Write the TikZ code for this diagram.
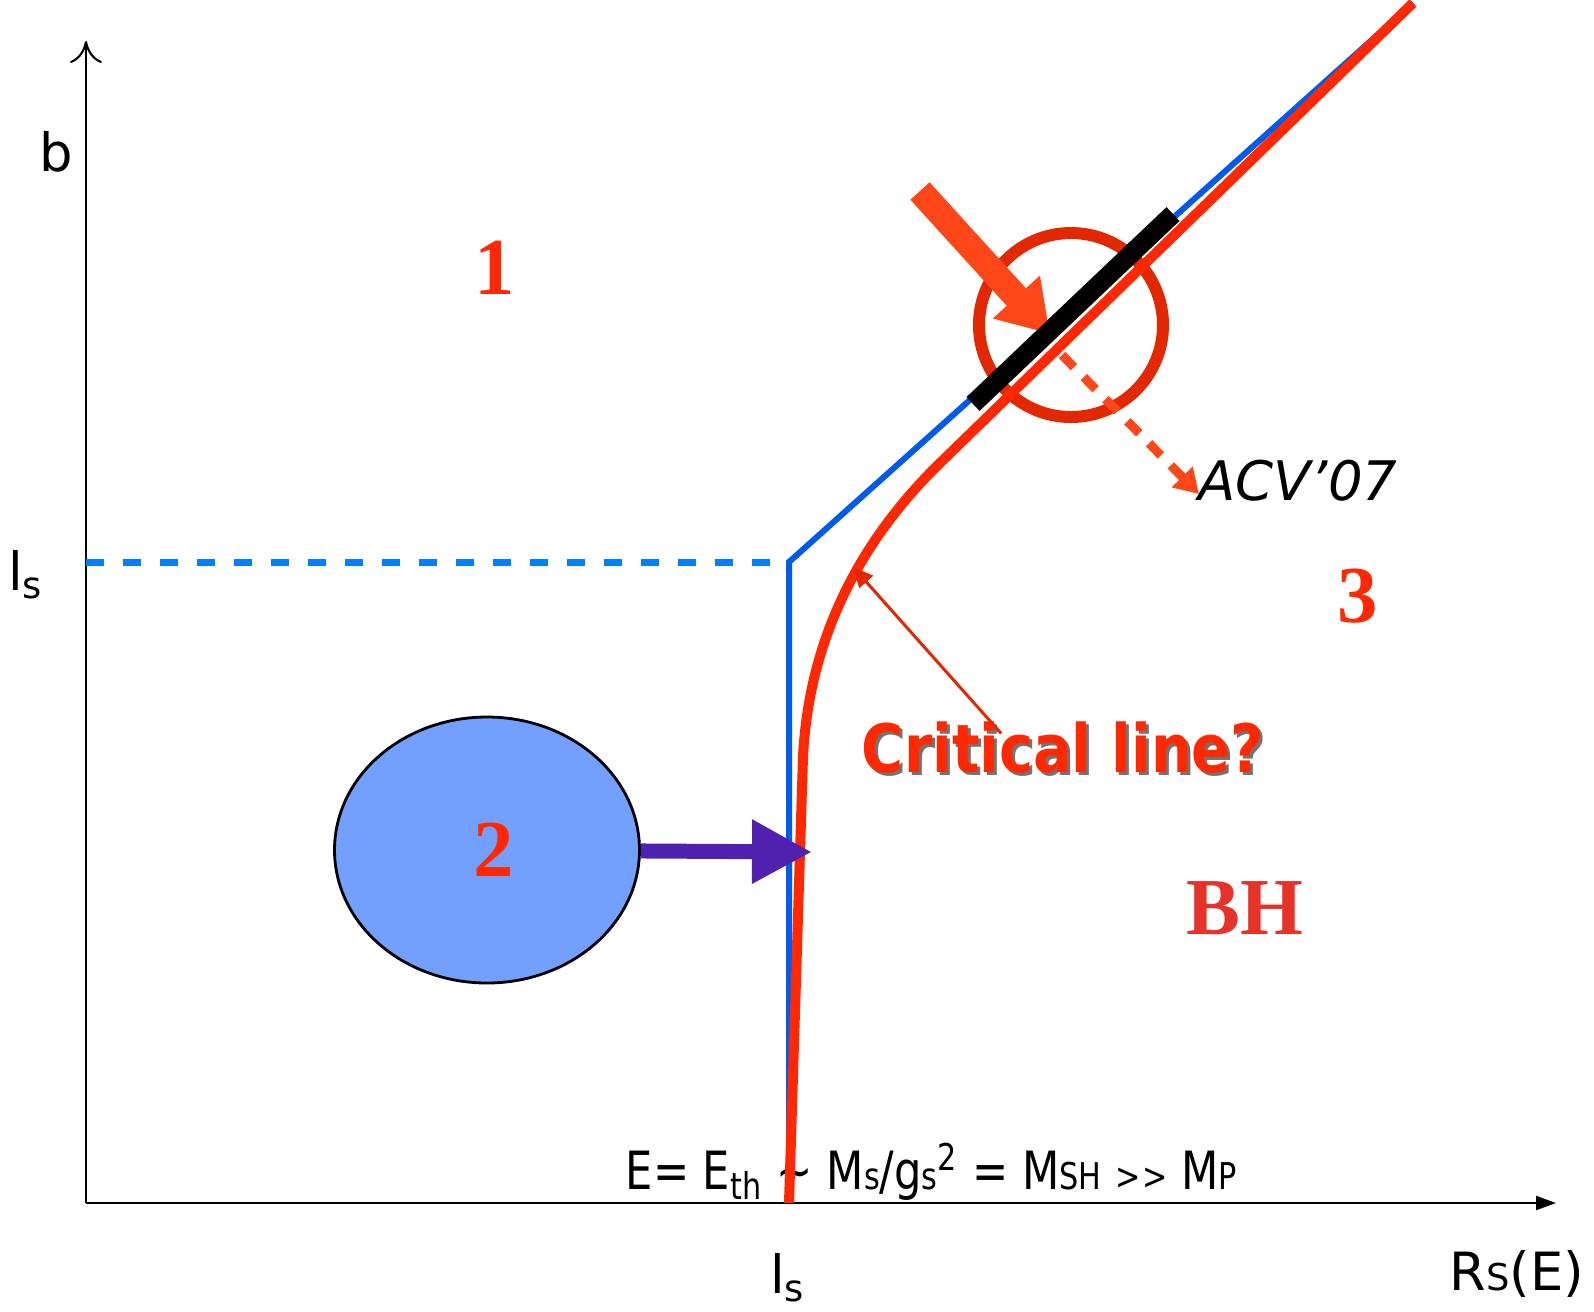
\documentclass[tikz,border=0pt]{standalone}
\usepackage{fontspec}
\setmainfont{DejaVu Sans}
\newfontfamily\numfont{Liberation Serif}
\newfontfamily\critfont{DejaVu Sans}[FakeStretch=0.86]
\newfontfamily\formfont{DejaVu Sans}[FakeStretch=0.82]
\usetikzlibrary{arrows.meta, positioning, calc, shapes.geometric}
\definecolor{LineBlue}{RGB}{0, 90, 235}
\definecolor{DashBlue}{RGB}{0, 128, 255}
\definecolor{CurveRed}{RGB}{255, 40, 0}
\definecolor{RingRed}{RGB}{225, 40, 0}
\definecolor{ArrowOrange}{RGB}{255, 70, 25}
\definecolor{BlobBlue}{RGB}{115, 160, 255}
\definecolor{ArrowPurple}{RGB}{80, 32, 175}
\definecolor{LabelRed}{RGB}{255, 40, 0}
\definecolor{BHRed}{RGB}{230, 50, 40}
\newcommand{\smalltxt}[1]{{\fontsize{10.5}{12}\selectfont #1}}

\begin{document}
\begin{tikzpicture}[
        x=0.1mm, y=-0.1mm,
        axis/.style={line width=0.6pt, black},
        lbl/.style={font=\fontsize{15}{18}\selectfont, inner sep=0pt},
        region/.style={font=\numfont\bfseries\fontsize{23}{26}\selectfont, text=LabelRed, inner sep=0pt},
        blob/.style={ellipse, draw=black, line width=0.8pt, fill=BlobBlue, minimum width=30.5mm, minimum height=26.6mm},
        ring/.style={circle, draw=RingRed, line width=1.2mm, minimum size=18.4mm, inner sep=0pt},
        bluepath/.style={line width=0.6mm, LineBlue},
        redpath/.style={line width=1mm, CurveRed},
        kneedash/.style={line width=0.7mm, DashBlue, dash pattern=on 1.8mm off 1.9mm},
        bar/.style={line width=1.9mm, black},
        bigarrow/.style={line width=2.6mm, ArrowOrange, -{Triangle[length=5mm, width=6mm]}},
        dasharrow/.style={line width=0.9mm, ArrowOrange, dash pattern=on 1.7mm off 1.4mm, -{Triangle[length=2.4mm, width=2.8mm]}},
        pusharrow/.style={line width=1.5mm, ArrowPurple, -{Triangle[length=6mm, width=6mm]}},
        thinarrow/.style={line width=0.3mm, RingRed, -{Triangle[length=2mm, width=1.8mm]}},
        critlabel/.style={font=\critfont\bfseries\fontsize{19}{22}\selectfont, inner sep=0pt}
    ]
        \useasboundingbox (0,0) rectangle (1594,1311);

        % axes
        \coordinate (O) at (86,1203);
        \coordinate (ytop) at (86,41);
        \coordinate (xend) at (1556,1203);
        \draw[axis, -{To[length=2.2mm, width=3.2mm]}] (O) -- (ytop);
        \draw[axis, -{Triangle[length=2mm, width=1.4mm]}] (O) -- (xend);
        \node[lbl] (b) at (56,152) {b};
        \node[lbl] (lsy) at (26,575) {l\textsubscript{s}};
        \node[lbl] (lsx) at (788,1278) {l\textsubscript{s}};
        \node[lbl] (rse) at (1517,1274) {R\smalltxt{S}(E)};
        \node[lbl, font=\formfont\fontsize{15}{18}\selectfont, anchor=base west] (formula) at (625,1189)
            {E= E\textsubscript{th} \textasciitilde{} M\smalltxt{s}/g\smalltxt{s}\textsuperscript{2} = M\smalltxt{SH} \smalltxt{>\kern0.4pt>} M\smalltxt{P}};

        % ring behind the lines
        \node[ring] (ring) at (1071,325) {};

        % blue and red boundaries
        \coordinate (knee) at (789,562);
        \draw[kneedash] (O |- knee) -- (knee);
        \draw[bluepath] (789,1203) -- (knee) -- (1413,3);
        \draw[redpath] (789,1203) -- (803,757) .. controls (809,637) and (861,540) .. (940,463) -- (1413,3);

        % arrows at the ring
        \coordinate (hintstart) at (920,191);
        \coordinate (hintend) at (1050,334);
        \draw[bigarrow] (hintstart) -- (hintend);
        \draw[bar] (973,404) -- (1173,214);
        \node[lbl, font=\itshape\fontsize{15.5}{18}\selectfont] (acv) at (1298,481) {ACV'07};
        \coordinate (ringmid) at (1062,355);
        \coordinate (acvtip) at (1199,494);
        \draw[dasharrow] (ringmid) -- (acvtip);

        % regions
        \node[region] (r1) at (495,268) {1};
        \node[region] (r3) at (1358,596) {3};
        \node[region, text=BHRed] (bh) at (1245,908) {BH};
        \node[blob, region] (blob) at (487,850) {\hspace*{5\pgflinewidth}2};
        \coordinate (hit) at (812,852);
        \draw[pusharrow] (blob) -- (hit);

        % critical line label
        \coordinate (critpt) at (853,567);
        \node[critlabel, text=black!55] (critshadow) at (1066,751) {Critical line?};
        \node[critlabel, text=CurveRed] (crit) at (1063,748) {Critical line?};
        \draw[thinarrow] ($(crit.north west)+(140,12)$) -- (critpt);
    \end{tikzpicture}
\end{document}
